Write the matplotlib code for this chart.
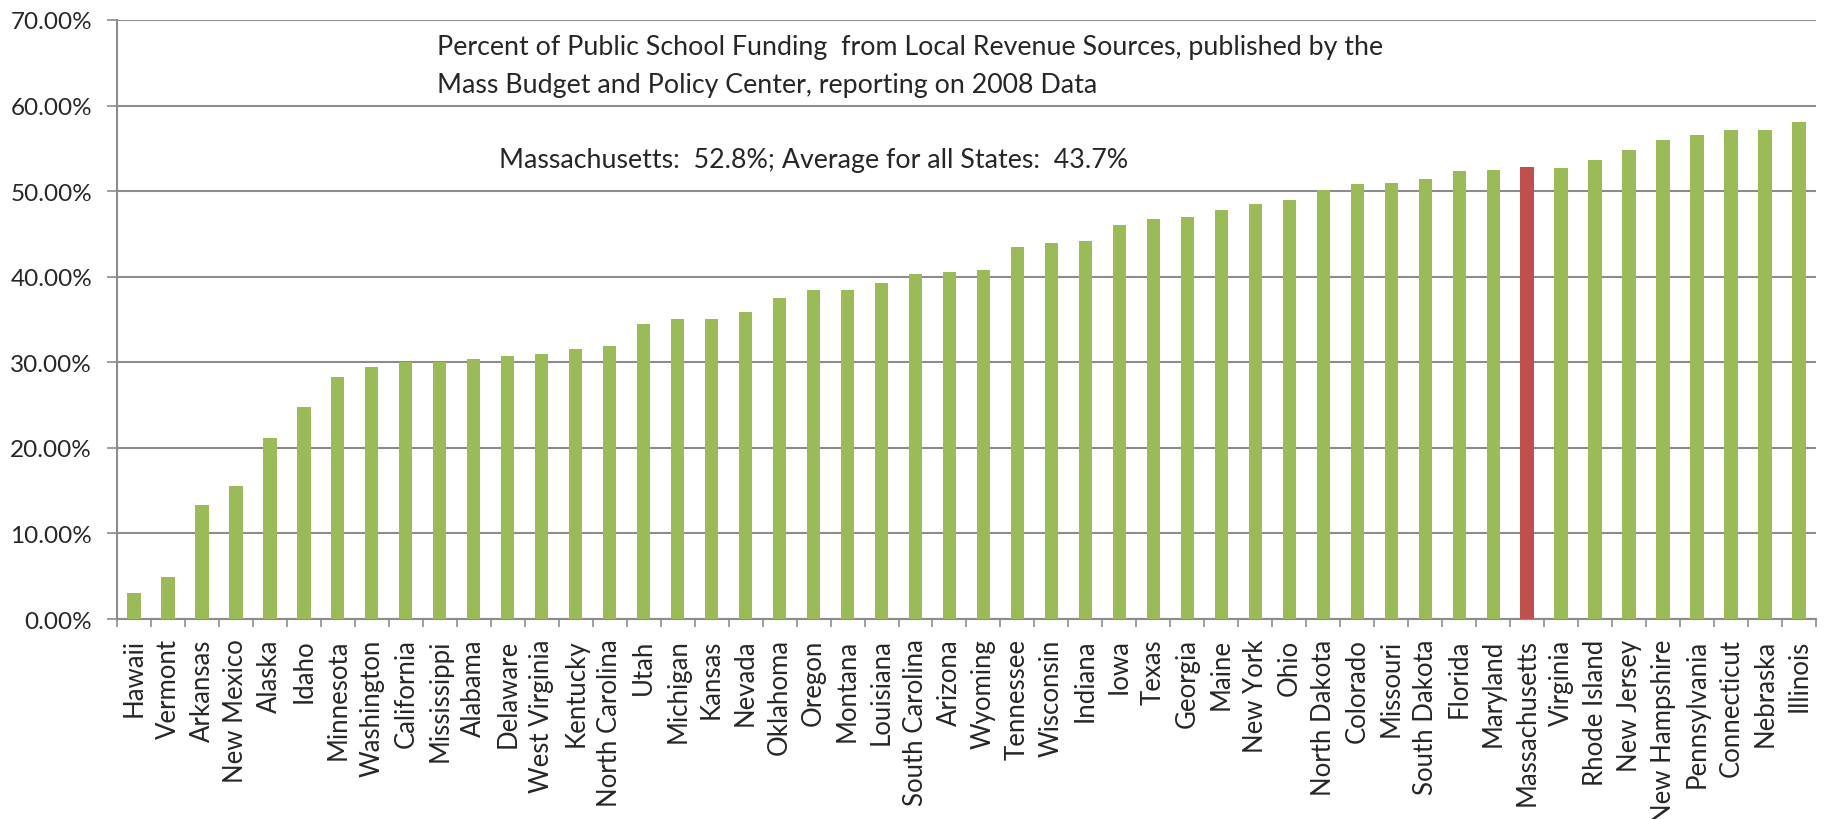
import numpy as np
import matplotlib
matplotlib.use('Agg')
from matplotlib import pyplot as plt
from matplotlib.ticker import PercentFormatter

BAR_GREEN = '#9BBB59'
BAR_RED = '#C0504D'
GRID_GRAY = '#8C8C8C'
TEXT_COLOR = '#262626'

states = ['Hawaii', 'Vermont', 'Arkansas', 'New Mexico', 'Alaska', 'Idaho',
          'Minnesota', 'Washington', 'California', 'Mississippi', 'Alabama',
          'Delaware', 'West Virginia', 'Kentucky', 'North Carolina', 'Utah',
          'Michigan', 'Kansas', 'Nevada', 'Oklahoma', 'Oregon', 'Montana',
          'Louisiana', 'South Carolina', 'Arizona', 'Wyoming', 'Tennessee',
          'Wisconsin', 'Indiana', 'Iowa', 'Texas', 'Georgia', 'Maine',
          'New York', 'Ohio', 'North Dakota', 'Colorado', 'Missouri',
          'South Dakota', 'Florida', 'Maryland', 'Massachusetts', 'Virginia',
          'Rhode Island', 'New Jersey', 'New Hampshire', 'Pennsylvania',
          'Connecticut', 'Nebraska', 'Illinois']

# share of funding from local revenue, in percent (2008)
local_pct = [3.0, 4.9, 13.3, 15.5, 21.2, 24.8,
             28.3, 29.5, 30.0, 30.0, 30.4,
             30.7, 31.0, 31.6, 31.9, 34.5,
             35.0, 35.1, 35.9, 37.5, 38.5, 38.5,
             39.3, 40.3, 40.6, 40.8, 43.5,
             43.9, 44.2, 46.0, 46.8, 47.0, 47.8,
             48.5, 49.0, 50.1, 50.8, 51.0,
             51.4, 52.3, 52.5, 52.8, 52.7,
             53.6, 54.8, 56.0, 56.6,
             57.2, 57.2, 58.1]

highlight = 'Massachusetts'
ma_pct = 52.8
avg_pct = 43.7

plt.rcParams['font.family'] = ['Lato', 'DejaVu Sans']

fig = plt.figure(figsize=(18.28, 8.2), dpi=100)
ax = fig.add_axes([0.064, 0.2439, 0.9294, 0.7305])

x = np.arange(len(states))
colors = [BAR_RED if s == highlight else BAR_GREEN for s in states]
ax.bar(x, local_pct, width=0.39, color=colors, zorder=3)

ax.set_xlim(-0.5, len(states) - 0.5)
ax.set_ylim(0, 70)
ax.set_yticks(np.arange(0, 71, 10))
ax.yaxis.set_major_formatter(PercentFormatter(decimals=2))
ax.yaxis.grid(True, color=GRID_GRAY, linewidth=1.5, zorder=0)

# category labels sit under the bars, tick marks go between them
ax.set_xticks(x)
ax.set_xticklabels(states, rotation=90, fontsize=18.5, color=TEXT_COLOR)
ax.tick_params(axis='x', which='major', length=0, pad=14)
ax.set_xticks(np.arange(-0.5, len(states), 1), minor=True)
ax.tick_params(axis='x', which='minor', length=6, width=1.2, color=GRID_GRAY, direction='out')
ax.tick_params(axis='y', length=7, width=1.2, color=GRID_GRAY, labelsize=17.5,
               labelcolor=TEXT_COLOR, pad=11)

for side in ['top', 'right']:
    ax.spines[side].set_visible(False)
for side in ['left', 'bottom']:
    ax.spines[side].set_color(GRID_GRAY)
    ax.spines[side].set_linewidth(1.5)

fig.text(437 / 1828, 1 - 47 / 820,
         'Percent of Public School Funding  from Local Revenue Sources, published by the',
         fontsize=19.3, color=TEXT_COLOR, ha='left', va='center')
fig.text(437 / 1828, 1 - 85 / 820,
         'Mass Budget and Policy Center, reporting on 2008 Data',
         fontsize=19.3, color=TEXT_COLOR, ha='left', va='center')
fig.text(499 / 1828, 1 - 161 / 820,
         'Massachusetts:  {:.1f}%; Average for all States:  {:.1f}%'.format(ma_pct, avg_pct),
         fontsize=19.3, color=TEXT_COLOR, ha='left', va='center')

fig.savefig('out.png', dpi=100, facecolor='white')
